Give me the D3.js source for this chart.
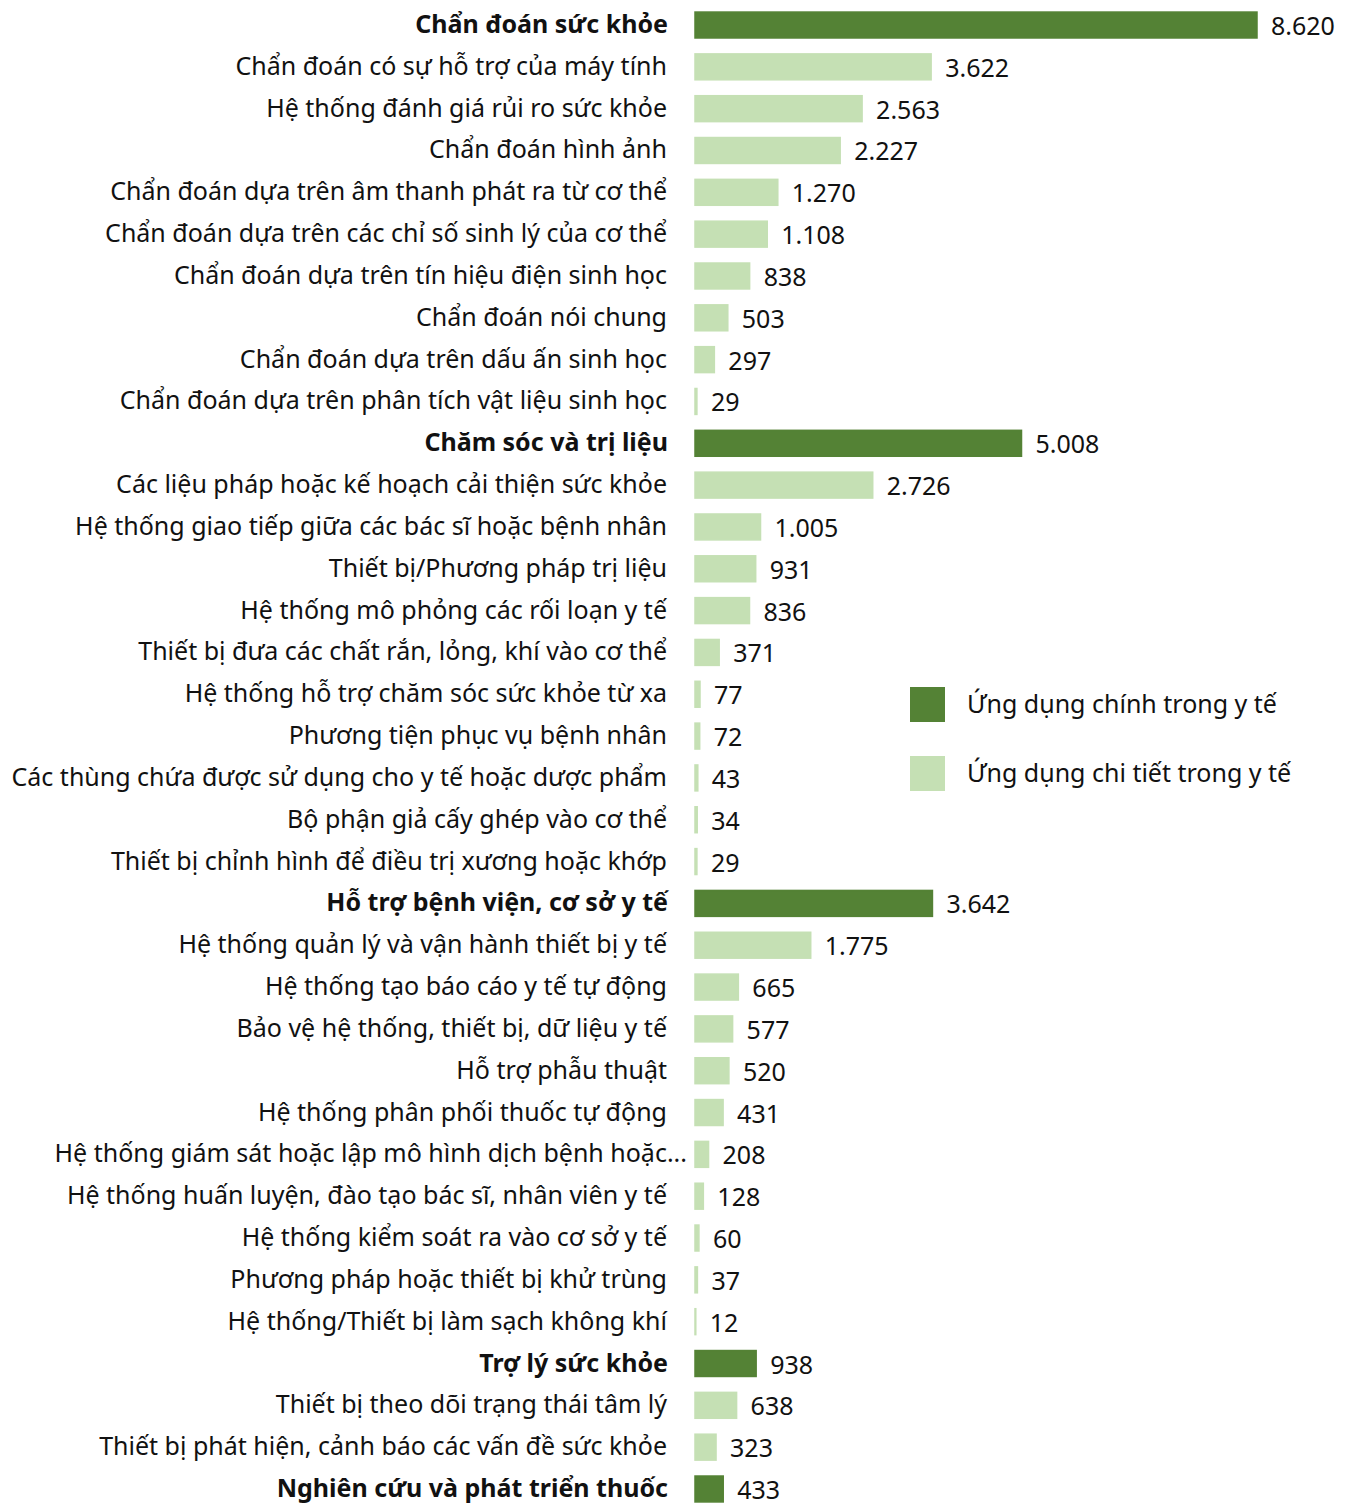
<!DOCTYPE html>
<html><head><meta charset="utf-8">
<script src="https://cdn.jsdelivr.net/npm/d3@7"></script>
<style>body{margin:0;background:#fff}svg{display:block}text{font-family:"Noto Sans",sans-serif;fill:#111}</style>
</head><body>
<script>
const categories = [
"Chẩn đoán sức khỏe","Chẩn đoán có sự hỗ trợ của máy tính","Hệ thống đánh giá rủi ro sức khỏe","Chẩn đoán hình ảnh",
"Chẩn đoán dựa trên âm thanh phát ra từ cơ thể","Chẩn đoán dựa trên các chỉ số sinh lý của cơ thể","Chẩn đoán dựa trên tín hiệu điện sinh học",
"Chẩn đoán nói chung","Chẩn đoán dựa trên dấu ấn sinh học","Chẩn đoán dựa trên phân tích vật liệu sinh học",
"Chăm sóc và trị liệu","Các liệu pháp hoặc kế hoạch cải thiện sức khỏe","Hệ thống giao tiếp giữa các bác sĩ hoặc bệnh nhân",
"Thiết bị/Phương pháp trị liệu","Hệ thống mô phỏng các rối loạn y tế","Thiết bị đưa các chất rắn, lỏng, khí vào cơ thể",
"Hệ thống hỗ trợ chăm sóc sức khỏe từ xa","Phương tiện phục vụ bệnh nhân","Các thùng chứa được sử dụng cho y tế hoặc dược phẩm",
"Bộ phận giả cấy ghép vào cơ thể","Thiết bị chỉnh hình để điều trị xương hoặc khớp",
"Hỗ trợ bệnh viện, cơ sở y tế","Hệ thống quản lý và vận hành thiết bị y tế","Hệ thống tạo báo cáo y tế tự động",
"Bảo vệ hệ thống, thiết bị, dữ liệu y tế","Hỗ trợ phẫu thuật","Hệ thống phân phối thuốc tự động",
"Hệ thống giám sát hoặc lập mô hình dịch bệnh hoặc...","Hệ thống huấn luyện, đào tạo bác sĩ, nhân viên y tế",
"Hệ thống kiểm soát ra vào cơ sở y tế","Phương pháp hoặc thiết bị khử trùng","Hệ thống/Thiết bị làm sạch không khí",
"Trợ lý sức khỏe","Thiết bị theo dõi trạng thái tâm lý","Thiết bị phát hiện, cảnh báo các vấn đề sức khỏe",
"Nghiên cứu và phát triển thuốc"];
const values = [8620,3622,2563,2227,1270,1108,838,503,297,29,
5008,2726,1005,931,836,371,77,72,43,34,29,
3642,1775,665,577,520,431,208,128,60,37,12,
938,638,323,
433];
const isMain = [1,0,0,0,0,0,0,0,0,0, 1,0,0,0,0,0,0,0,0,0,0, 1,0,0,0,0,0,0,0,0,0,0, 1,0,0, 1];
const seriesNames = ["Ứng dụng chính trong y tế","Ứng dụng chi tiết trong y tế"];
const seriesColors = ["#548235","#C5E0B4"];

const W=1351,H=1503;
const svg=d3.select("body").append("svg").attr("width",W).attr("height",H);
const x=d3.scaleLinear().domain([0,8620]).range([695,1257]);
const y=d3.scaleBand().domain(d3.range(categories.length)).range([4.1,1509.9]).paddingInner(0.38).paddingOuter(0.19);
const fmt=d3.formatLocale({decimal:",",thousands:".",grouping:[3],currency:["",""]}).format(",d");
const rows=categories.map((c,i)=>({c,v:values[i],m:isMain[i]}));

const g=svg.append("g");
g.selectAll("rect.bar").data(rows).join("rect").attr("class","bar")
 .attr("x",x(0)).attr("y",(d,i)=>y(i)).attr("width",d=>x(d.v)-x(0)).attr("height",y.bandwidth())
 .attr("fill",d=>seriesColors[d.m?0:1]).attr("stroke",d=>seriesColors[d.m?0:1]).attr("stroke-width",1.5);

g.selectAll("text.cat").data(rows).join("text").attr("class","cat")
 .attr("x",d=>d.c.endsWith("...")?687:(d.m?668:667)).attr("y",(d,i)=>y(i)+y.bandwidth()/2+8)
 .attr("text-anchor","end").attr("font-size",25).attr("font-weight",d=>d.m?700:400).text(d=>d.c);

g.selectAll("text.val").data(rows).join("text").attr("class","val")
 .attr("x",d=>x(d.v)+14).attr("y",(d,i)=>y(i)+y.bandwidth()/2+10)
 .attr("font-size",25).text(d=>fmt(d.v));

const leg=svg.append("g");
const ly=[687,756];
seriesNames.forEach((n,i)=>{
  leg.append("rect").attr("x",910).attr("y",ly[i]).attr("width",35).attr("height",35).attr("fill",seriesColors[i]);
  leg.append("text").attr("x",967).attr("y",ly[i]+26).attr("font-size",25).text(n);
});
</script>
</body></html>
